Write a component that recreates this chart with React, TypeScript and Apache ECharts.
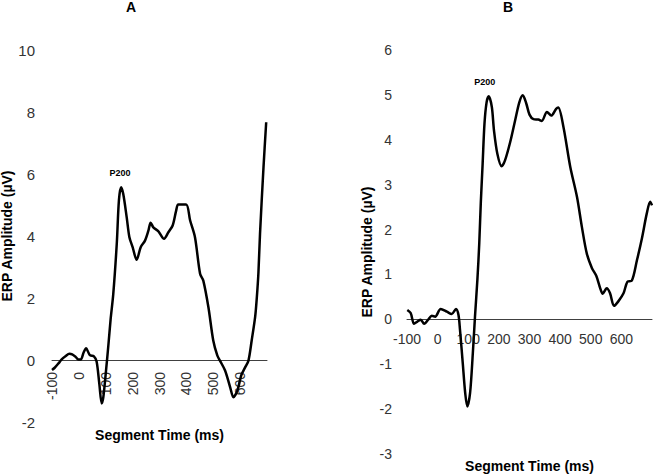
import React, { useEffect, useRef } from "react";
import * as echarts from "echarts";

// Panel A: ERP waveform (time in ms, amplitude in µV)
const timesA = [
  -100, -90, -75, -64, -50, -35, -25, -12, -2, 7, 18, 27, 35, 42, 56, 66, 76, 85, 91, 101,
  110, 118, 128, 141, 149, 157, 165, 178, 188, 200, 215, 230, 246, 259, 267, 277, 296, 317,
  333, 349, 362, 370, 399, 414, 432, 451, 463, 482, 500, 515, 525, 544, 563, 575, 590, 604,
  619, 631, 643, 656, 662, 668, 674, 687, 697,
];
const ampA = [
  -0.32, -0.25, -0.1, 0.02, 0.12, 0.2, 0.18, 0.1, 0.02, 0.02, 0.25, 0.38, 0.25, 0.15, 0.12,
  -0.05, -0.76, -1.4, -1.2, -0.34, 0.5, 1.3, 2.13, 3.75, 5.15, 5.57, 5.36, 4.6, 3.96, 3.64,
  3.23, 3.64, 3.85, 4.18, 4.43, 4.28, 4.15, 3.91, 4.12, 4.34, 4.82, 5.02, 5.02, 4.5, 3.96,
  2.78, 2.56, 1.7, 0.63, 0.15, -0.02, -0.34, -0.88, -1.2, -0.98, -0.5, -0.23, -0.02, 0.63,
  1.4, 2.0, 2.8, 4.07, 6.22, 7.67,
];

// Panel B
const timesB = [
  -99, -88, -77, -66, -55, -44, -30, -19, -8, 10, 30, 46, 60, 68, 73, 82, 90, 97, 106, 115,
  122, 130, 136, 141, 147, 153, 160, 167, 177, 184, 195, 209, 220, 237, 253, 267, 278, 289,
  300, 313, 329, 340, 357, 371, 387, 394, 411, 433, 455, 471, 487, 504, 518, 531, 539, 552,
  563, 576, 590, 607, 620, 634, 651, 667, 683, 694, 700,
];
const ampB = [
  0.21, 0.14, -0.1, -0.05, -0.01, -0.1, 0.0, 0.08, 0.06, 0.23, 0.17, 0.12, 0.23, 0.1, -0.23,
  -0.97, -1.64, -1.94, -1.64, -0.75, 0.06, 0.9, 1.7, 2.6, 3.47, 4.36, 4.84, 4.97, 4.73, 4.21,
  3.69, 3.41, 3.54, 3.95, 4.43, 4.84, 4.99, 4.82, 4.56, 4.46, 4.45, 4.42, 4.62, 4.54, 4.69,
  4.72, 4.28, 3.4, 2.73, 2.06, 1.47, 1.14, 0.97, 0.69, 0.57, 0.69, 0.58, 0.3, 0.4, 0.58, 0.84,
  0.86, 1.32, 1.8, 2.36, 2.62, 2.54,
];

const xTickLabels = [-100, 0, 100, 200, 300, 400, 500, 600];
const yRangeA = [-2, 10];
const yRangeB = [-3, 6];
const peakA = [157, 5.57];
const peakB = [167, 4.97];

const FONT = "'Liberation Sans', Arial, sans-serif";

export default function App() {
  const ref = useRef<HTMLDivElement>(null);
  useEffect(() => {
    if (!ref.current) return;
    const chart = echarts.init(ref.current, null, { renderer: "svg" });
    const xFmt = (v: number) => (xTickLabels.includes(v) ? String(v) : "");
    const gridA = { left: 52, top: 50, width: 215, height: 372 };
    const gridB = { left: 407, top: 50, width: 245, height: 404 };
    // move the x axis (line + labels) up to the zero level of each panel
    const zeroOffset = (range: number[], h: number) =>
      -((0 - range[0]) / (range[1] - range[0])) * h;
    const axisCommonX = {
      type: "value",
      min: -100,
      max: 700,
      interval: 100,
      axisLine: { onZero: false, lineStyle: { color: "#404040", width: 1 } },
      axisTick: { show: false },
      splitLine: { show: false },
      nameLocation: "middle",
      nameTextStyle: { fontFamily: FONT, fontSize: 14, fontWeight: "bold", color: "#000" },
    };
    const axisCommonY = {
      type: "value",
      axisLine: { show: false },
      axisTick: { show: false },
      splitLine: { show: false },
      nameLocation: "middle",
      nameRotate: 90,
      nameTextStyle: { fontFamily: FONT, fontSize: 14, fontWeight: "bold", color: "#000" },
    };
    const seriesStyle = {
      type: "line",
      showSymbol: false,
      smooth: 0.3,
      lineStyle: { color: "#000", width: 2.5 },
    };
    const p200Label = (off: number[]) => ({
      show: true,
      formatter: "P200",
      position: "top",
      distance: 10,
      offset: off,
      fontFamily: FONT,
      fontSize: 9,
      fontWeight: "bold",
      color: "#000",
    });
    chart.setOption({
      animation: false,
      backgroundColor: "#fff",
      title: [
        { text: "A", left: 131, top: 0, textAlign: "center", padding: 0,
          textStyle: { fontFamily: FONT, fontSize: 14, fontWeight: "bold", color: "#000" } },
        { text: "B", left: 508, top: 0, textAlign: "center", padding: 0,
          textStyle: { fontFamily: FONT, fontSize: 14, fontWeight: "bold", color: "#000" } },
      ],
      grid: [
        { ...gridA, containLabel: false, outerBoundsMode: "none" },
        { ...gridB, containLabel: false, outerBoundsMode: "none" },
      ],
      xAxis: [
        {
          ...axisCommonX,
          gridIndex: 0,
          offset: zeroOffset(yRangeA, gridA.height),
          name: "Segment Time (ms)",
          nameGap: 68,
          axisLabel: { rotate: 90, margin: 12, formatter: xFmt, fontFamily: FONT, fontSize: 14, color: "#333" },
        },
        {
          ...axisCommonX,
          gridIndex: 1,
          offset: zeroOffset(yRangeB, gridB.height),
          name: "Segment Time (ms)",
          nameGap: 140,
          axisLabel: { margin: 13, formatter: xFmt, fontFamily: FONT, fontSize: 14, color: "#333" },
        },
      ],
      yAxis: [
        {
          ...axisCommonY,
          gridIndex: 0,
          min: yRangeA[0],
          max: yRangeA[1],
          interval: 2,
          name: "ERP Amplitude (µV)",
          nameGap: 37,
          axisLabel: { margin: 17, fontFamily: FONT, fontSize: 15, color: "#333" },
        },
        {
          ...axisCommonY,
          gridIndex: 1,
          min: yRangeB[0],
          max: yRangeB[1],
          interval: 1,
          name: "ERP Amplitude (µV)",
          nameGap: 33,
          axisLabel: { margin: 15, fontFamily: FONT, fontSize: 14, color: "#333" },
        },
      ],
      series: [
        {
          ...seriesStyle,
          xAxisIndex: 0,
          yAxisIndex: 0,
          data: timesA.map((t, i) => [t, ampA[i]]),
          markPoint: {
            symbol: "circle",
            symbolSize: 0,
            data: [{ coord: peakA }],
            label: p200Label([-1, 0]),
          },
        },
        {
          ...seriesStyle,
          xAxisIndex: 1,
          yAxisIndex: 1,
          data: timesB.map((t, i) => [t, ampB[i]]),
          markPoint: {
            symbol: "circle",
            symbolSize: 0,
            data: [{ coord: peakB }],
            label: p200Label([-4, 0]),
          },
        },
      ],
    });
    return () => chart.dispose();
  }, []);
  return (
    <div
      ref={ref}
      style={{ position: "fixed", left: 0, top: 0, width: 653, height: 475, background: "#fff" }}
    />
  );
}
